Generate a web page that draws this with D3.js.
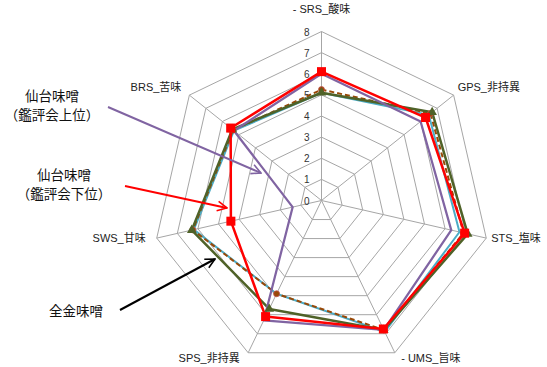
<!DOCTYPE html>
<html>
<head>
<meta charset="utf-8">
<script src="https://cdn.jsdelivr.net/npm/d3@7"></script>
<style>
  html, body { margin: 0; padding: 0; background: #fff; }
  svg { display: block; }
  text { font-family: "Liberation Sans", "Noto Sans CJK JP", sans-serif; }
</style>
</head>
<body>
<svg id="chart" width="547" height="367"></svg>
<script>
// Taste-sensor axes, clockwise from the top
const axes = ["- SRS_酸味", "GPS_非持異", "STS_塩味", "- UMS_旨味", "SPS_非持異", "SWS_甘味", "BRS_苦味"];
const ticks = [0, 1, 2, 3, 4, 5, 6, 7, 8];

// Sensor scores per sample, same order as axes
const tealValues   = [5.1, 6.5, 6.7, 6.9, 4.9, 6.2, 5.3];
const brownValues  = [5.25, 6.6, 6.9, 6.8, 4.9, 6.25, 5.35];
const greenValues  = [5.1, 6.7, 7.1, 6.8, 5.7, 6.3, 5.4];
const purpleValues = [6.0, 6.0, 6.3, 6.8, 6.3, 1.4, 5.3];
const redValues    = [6.1, 6.3, 6.95, 6.75, 6.1, 4.4, 5.5];

// Callout labels
const upperLabel = ["仙台味噌", "（鑑評会上位）"];
const lowerLabel = ["仙台味噌", "（鑑評会下位）"];
const zenkinLabel = "全金味噌";

const svg = d3.select("#chart");
const cx = 321.5, cy = 200.5;
const r = d3.scaleLinear().domain([0, 8]).range([0, 169]);
const angle = d3.scalePoint().domain(d3.range(axes.length + 1)).range([0, 2 * Math.PI]);
const pt = (i, v) => [cx + r(v) * Math.sin(angle(i)), cy - r(v) * Math.cos(angle(i))];

const g = svg.append("g");

// Grid rings
ticks.slice(1).forEach(t => {
  g.append("polygon")
    .attr("points", axes.map((_, i) => pt(i, t).join(",")).join(" "))
    .attr("fill", "none").attr("stroke", "#a6a6a6").attr("stroke-width", 1);
});
// Spokes
axes.forEach((_, i) => {
  const [x, y] = pt(i, 8);
  g.append("line").attr("x1", cx).attr("y1", cy).attr("x2", x).attr("y2", y)
    .attr("stroke", "#a6a6a6").attr("stroke-width", 1);
});

// Tick labels along the top spoke
ticks.forEach(t => {
  const [x, y] = pt(0, t);
  g.append("text").attr("x", x - 12).attr("y", y + 4)
    .attr("text-anchor", "end").attr("font-size", 10).attr("fill", "#333")
    .text(t);
});

// Axis labels
const labelPos = [
  { dx: 0, dy: -19, anchor: "middle" },
  { dx: 4, dy: -4, anchor: "start" },
  { dx: 5, dy: 4, anchor: "start" },
  { dx: 36, dy: 9, anchor: "middle" },
  { dx: -39, dy: 9, anchor: "middle" },
  { dx: -11, dy: 4, anchor: "end" },
  { dx: -8, dy: -4, anchor: "end" }
];
axes.forEach((a, i) => {
  const [x, y] = pt(i, 8);
  const p = labelPos[i];
  g.append("text").attr("x", x + p.dx).attr("y", y + p.dy)
    .attr("text-anchor", p.anchor).attr("font-size", 11).attr("fill", "#222")
    .text(a);
});

const line = d3.line().curve(d3.curveLinearClosed);
function series(vals, color, width, dash) {
  g.append("path")
    .attr("d", line(vals.map((v, i) => pt(i, v))))
    .attr("fill", "none").attr("stroke", color).attr("stroke-width", width)
    .attr("stroke-dasharray", dash || null).attr("stroke-linejoin", "round");
}

series(tealValues, "#4bacc6", 2);
series(brownValues, "#984807", 2, "5,3");
series(greenValues, "#4f6228", 2.5);
series(purpleValues, "#8064a2", 2.25);
series(redValues, "#ff0000", 2.5);

// Markers
brownValues.forEach((v, i) => {
  const [x, y] = pt(i, v);
  g.append("circle").attr("cx", x).attr("cy", y).attr("r", 3)
    .attr("fill", "#984807").attr("stroke", "#c0504d").attr("stroke-width", 0.8);
});
const tri = d3.symbol().type(d3.symbolTriangle).size(40);
greenValues.forEach((v, i) => {
  const [x, y] = pt(i, v);
  g.append("path").attr("d", tri()).attr("transform", `translate(${x},${y})`)
    .attr("fill", "#4f6228");
});
redValues.forEach((v, i) => {
  const [x, y] = pt(i, v);
  g.append("rect").attr("x", x - 4.5).attr("y", y - 4.5).attr("width", 9).attr("height", 9)
    .attr("fill", "#ff0000");
});

// Arrow markers
const defs = svg.append("defs");
[["arPurple", "#8064a2"], ["arRed", "#ff0000"], ["arBlack", "#000"]].forEach(([id, c]) => {
  defs.append("marker").attr("id", id).attr("viewBox", "0 0 10 10")
    .attr("refX", 9).attr("refY", 5).attr("markerWidth", 6).attr("markerHeight", 6)
    .attr("orient", "auto").attr("markerUnits", "strokeWidth")
    .append("path").attr("d", "M1,1 L9,5 L1,9").attr("fill", "none")
    .attr("stroke", c).attr("stroke-width", 1.3);
});

// Callouts
function callout(lines, x, y0, color, from, to, marker) {
  lines.forEach((t, k) => {
    svg.append("text").attr("x", x).attr("y", y0 + k * 19)
      .attr("text-anchor", "middle").attr("font-size", 13.5).attr("fill", "#111")
      .attr("font-family", "Noto Sans CJK JP, sans-serif")
      .text(t);
  });
  svg.append("line").attr("x1", from[0]).attr("y1", from[1]).attr("x2", to[0]).attr("y2", to[1])
    .attr("stroke", color).attr("stroke-width", 2).attr("marker-end", `url(#${marker})`);
}
callout(upperLabel, 52, 101, "#8064a2", [108, 107], [261, 173], "arPurple");
callout(lowerLabel, 64, 180, "#ff0000", [125, 186], [227, 208], "arRed");
callout([zenkinLabel], 76, 316, "#000", [120, 310], [215, 259], "arBlack");
</script>
</body>
</html>
